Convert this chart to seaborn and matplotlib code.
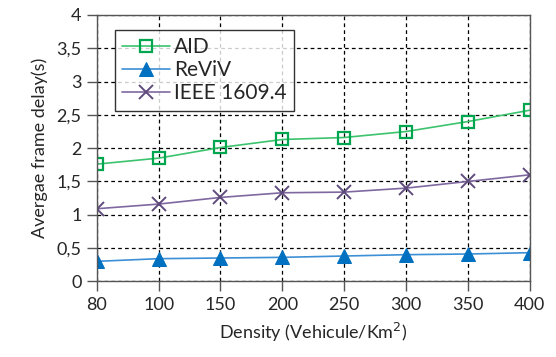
import seaborn as sns
import matplotlib.pyplot as plt
import pandas as pd

density = ["80", "100", "150", "200", "250", "300", "350", "400"]
aid = [1.76, 1.85, 2.01, 2.13, 2.16, 2.25, 2.40, 2.57]
reviv = [0.30, 0.34, 0.35, 0.36, 0.38, 0.40, 0.41, 0.43]
ieee = [1.09, 1.16, 1.26, 1.33, 1.34, 1.40, 1.50, 1.60]
y_ticks = [0, 0.5, 1, 1.5, 2, 2.5, 3, 3.5, 4]

sns.set_style("white")
plt.rcParams['font.family'] = ['Lato', 'DejaVu Sans']

fig = plt.figure(figsize=(5.56, 3.57), dpi=100)
ax = fig.add_axes([0.174, 0.212, 0.779, 0.746])

df = pd.DataFrame({"density": density, "AID": aid, "ReViV": reviv, "IEEE 1609.4": ieee})

sns.lineplot(data=df, x="density", y="AID", ax=ax, color="#3cc36e", lw=1.2,
             marker="s", markersize=9, markerfacecolor="none",
             markeredgecolor="#00a550", markeredgewidth=1.6, label="AID")
sns.lineplot(data=df, x="density", y="ReViV", ax=ax, color="#3d8fd6", lw=1.2,
             marker="^", markersize=10, markerfacecolor="#0070c0",
             markeredgecolor="#0070c0", label="ReViV")
sns.lineplot(data=df, x="density", y="IEEE 1609.4", ax=ax, color="#7f68a0", lw=1.2,
             marker="x", markersize=10, markeredgecolor="#5f4b7c",
             markeredgewidth=1.4, label="IEEE 1609.4")

ax.set_xlim(0, len(density) - 1)
ax.set_ylim(0, 4)
ax.set_yticks(y_ticks)
ax.set_yticklabels([f"{v:g}".replace(".", ",") for v in y_ticks])
ax.grid(True, color="black", linestyle=(0, (3, 2.5)), lw=0.9)
for sp in ax.spines.values():
    sp.set_color("#555555")
    sp.set_linewidth(1.0)
ax.tick_params(axis="both", direction="out", length=7, width=1, color="#555555",
               labelsize=13, pad=4, left=True, bottom=True)
ax.set_xlabel("Density (Vehicule/Km$^2$)", fontsize=13, labelpad=6)
ax.set_ylabel("Avergae frame delay(s)", fontsize=13, labelpad=6)

leg = ax.legend(loc="upper left", bbox_to_anchor=(0.018, 0.983), fontsize=15,
                frameon=True, fancybox=False, edgecolor="black",
                handlelength=2.3, handletextpad=0.2, borderpad=0.35,
                labelspacing=0.15)
leg.get_frame().set_linewidth(1.0)

fig.savefig("out.png", dpi=100)
